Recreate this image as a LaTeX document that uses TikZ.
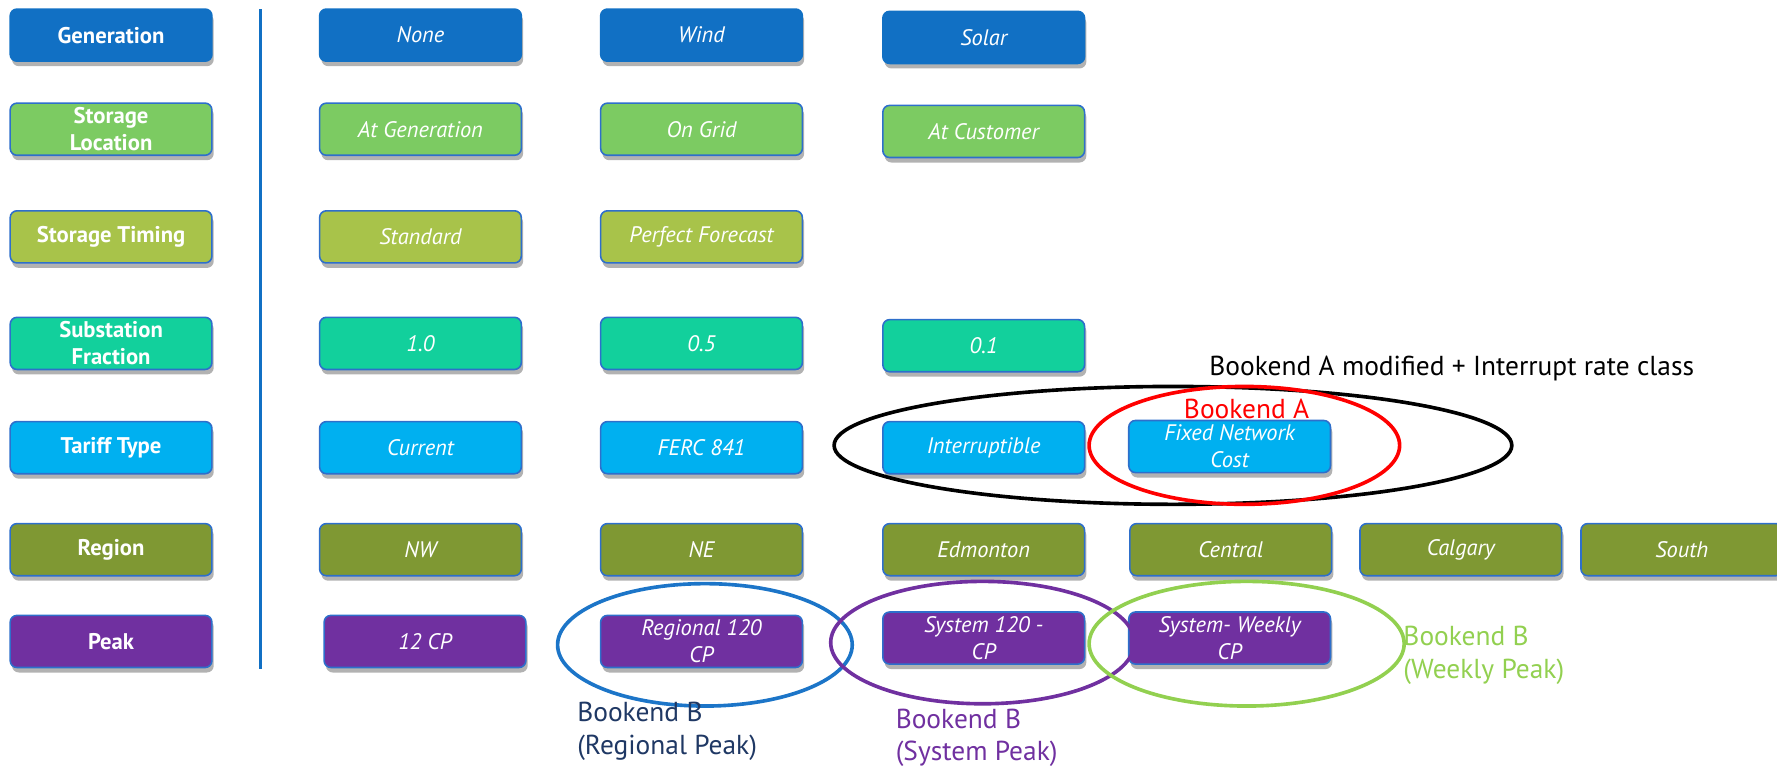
\documentclass[tikz,border=0pt]{standalone}
\usepackage{fontspec}
\setmainfont{PT Sans}
\usetikzlibrary{shadows}
\definecolor{cGen}{HTML}{1170C4}
\definecolor{cSL}{HTML}{7CCB62}
\definecolor{cST}{HTML}{A8C34A}
\definecolor{cSF}{HTML}{12D09C}
\definecolor{cTT}{HTML}{00B0F0}
\definecolor{cRG}{HTML}{7F9833}
\definecolor{cPK}{HTML}{7030A0}
\definecolor{cBorder}{HTML}{2E6FCB}
\definecolor{cRedE}{HTML}{FF0000}
\definecolor{cBlueE}{HTML}{1C75C8}
\definecolor{cGreenE}{HTML}{92D050}
\definecolor{cNavy}{HTML}{1F3864}
\tikzset{
  box/.style={rounded corners=3pt, minimum width=89pt, minimum height=23pt,
    draw=cBorder, line width=0.7pt, text=white, align=center, inner sep=1pt,
    drop shadow={shadow xshift=0.8pt, shadow yshift=-2.2pt, fill=black, opacity=0.3}},
  head/.style={box, font=\bfseries\fontsize{10}{12}\selectfont},
  opt/.style={box, font=\itshape\fontsize{9.9}{12}\selectfont},
  ring/.style={line width=1.6pt},
  note/.style={font=\fontsize{12.1}{14.5}\selectfont, inner sep=0pt, align=left}
}
\begin{document}
\begin{tikzpicture}[x=0.5pt,y=-0.5pt]
\useasboundingbox (0,0) rectangle (1568,680);
% divider
\coordinate (dTop) at (230,8);
\coordinate (dBot) at (230,590);
\draw[cGen, line width=1.3pt] (dTop) -- (dBot);
% headers
\node[head, fill=cGen, draw=cGen] (hGen) at (98,31) {Generation};
\node[head, fill=cSL] (hSL) at (98,114) {Storage\\Location};
\node[head, fill=cST] (hST) at (98,209) {Storage Timing};
\node[head, fill=cSF] (hSF) at (98,303) {Substation\\Fraction};
\node[head, fill=cTT] (hTT) at (98,395) {Tariff Type};
\node[head, fill=cRG] (hRG) at (98,485) {Region};
\node[head, fill=cPK] (hPK) at (98,566) {Peak};
% generation
\node[opt, fill=cGen, draw=cGen] (gNone) at (371,31) {None};
\node[opt, fill=cGen, draw=cGen] (gWind) at (619,31) {Wind};
\node[opt, fill=cGen, draw=cGen] (gSolar) at (868,33) {Solar};
% storage location
\node[opt, fill=cSL] (slGen) at (371,114) {At Generation};
\node[opt, fill=cSL] (slGrid) at (619,114) {On Grid};
\node[opt, fill=cSL] (slCust) at (868,116) {At Customer};
% storage timing
\node[opt, fill=cST] (stStd) at (371,209) {Standard};
\node[opt, fill=cST] (stPF) at (619,209) {Perfect Forecast};
% substation fraction
\node[opt, fill=cSF] (sfA) at (371,303) {1.0};
\node[opt, fill=cSF] (sfB) at (619,303) {0.5};
\node[opt, fill=cSF] (sfC) at (868,305) {0.1};
% tariff type
\node[opt, fill=cTT] (ttCur) at (371,395) {Current};
\node[opt, fill=cTT] (ttFerc) at (619,395) {FERC 841};
\node[opt, fill=cTT] (ttInt) at (868,395) {Interruptible};
\node[opt, fill=cTT] (ttFix) at (1085,394) {Fixed Network\\Cost};
% region
\node[opt, fill=cRG] (rNW) at (371,485) {NW};
\node[opt, fill=cRG] (rNE) at (619,485) {NE};
\node[opt, fill=cRG] (rEd) at (868,485) {Edmonton};
\node[opt, fill=cRG] (rCe) at (1086,485) {Central};
\node[opt, fill=cRG] (rCa) at (1289,485) {Calgary};
\node[opt, fill=cRG] (rSo) at (1484,485) {South};
% peak
\node[opt, fill=cPK] (p12) at (375,566) {12 CP};
\node[opt, fill=cPK] (pReg) at (619,566) {Regional 120\\CP};
\node[opt, fill=cPK] (pSys) at (868,563) {System 120 -\\CP};
\node[opt, fill=cPK] (pWk) at (1085,563) {System- Weekly\\CP};
% rings
\draw[ring, black] (1035,393) ellipse [x radius=299, y radius=52];
\draw[ring, cRedE] (1098,393) ellipse [x radius=137, y radius=52];
\draw[ring, cBlueE] (622,569) ellipse [x radius=130, y radius=54];
\draw[ring, cPK] (867,567) ellipse [x radius=134, y radius=54];
\draw[ring, cGreenE] (1100,568) ellipse [x radius=139, y radius=55];
% notes
\node[note, anchor=center] (nMod) at (1281,325) {Bookend A modified + Interrupt rate class};
\node[note, text=cRedE, anchor=center] (nA) at (1100,361) {Bookend A};
\node[note, text=cNavy, anchor=west] (nReg) at (509,645) {Bookend B\\(Regional Peak)};
\node[note, text=cPK, anchor=west] (nSys) at (790,651) {Bookend B\\(System Peak)};
\node[note, text=cGreenE, anchor=west] (nWk) at (1238,578) {Bookend B\\(Weekly Peak)};
\end{tikzpicture}
\end{document}
